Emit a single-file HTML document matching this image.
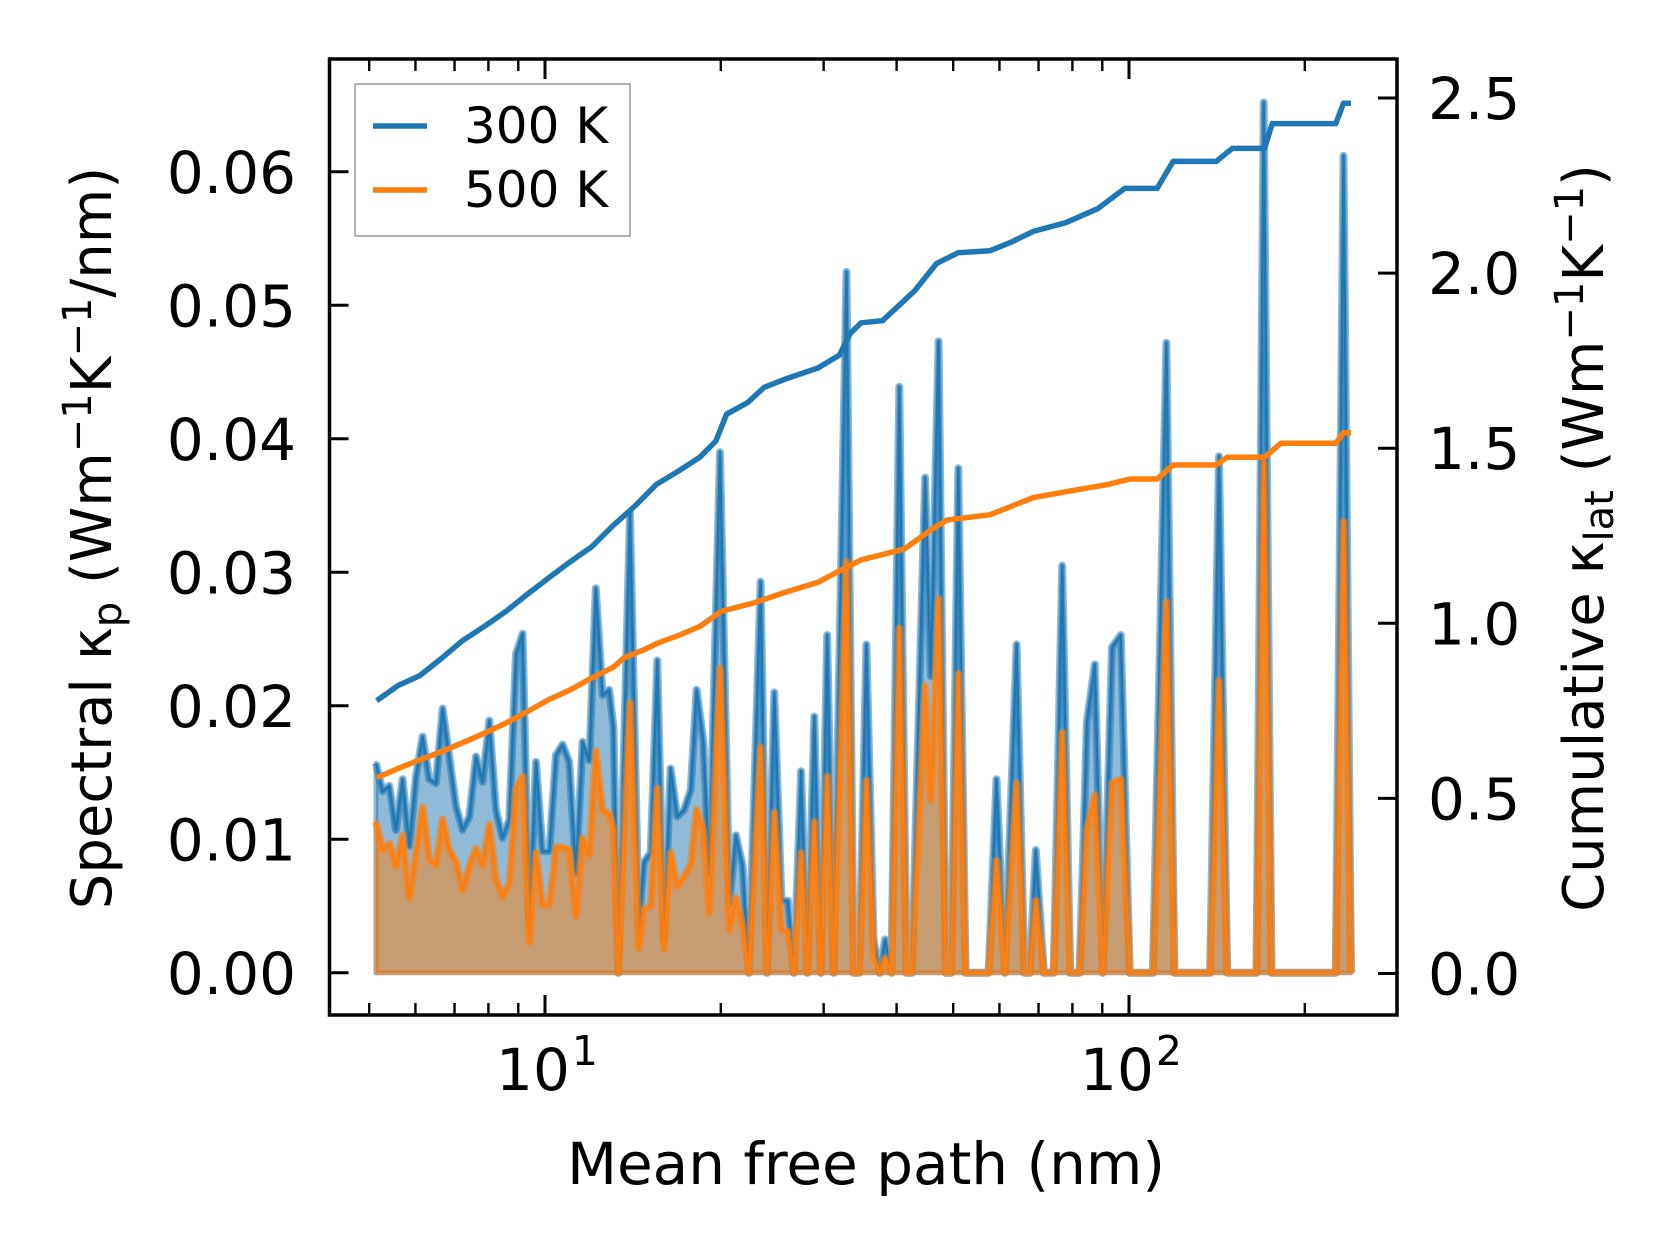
<!DOCTYPE html>
<html><head><meta charset="utf-8"><style>
html,body{margin:0;padding:0;background:#fff;}
svg{display:block;font-family:"DejaVu Sans","Liberation Sans",sans-serif;}
</style></head><body>
<svg id="chart" width="1679" height="1254" viewBox="0 0 1679 1254" xmlns="http://www.w3.org/2000/svg">
<defs><clipPath id="plotclip"><rect x="329.5" y="59" width="1067.5" height="956"/></clipPath></defs>
<g id="marks" clip-path="url(#plotclip)"></g>
<g id="axes"></g>
<g>
<rect x="355" y="84" width="275" height="152" fill="#fff" fill-opacity="0.8" stroke="#999" stroke-width="1.5"/>
<line x1="373" y1="126" x2="427" y2="126" stroke="#1f77b4" stroke-width="5.5"/>
<text x="464" y="143" font-size="50">300 K</text>
<line x1="373" y1="190" x2="427" y2="190" stroke="#ff7f0e" stroke-width="5.5"/>
<text x="464" y="207" font-size="50">500 K</text>
</g>
<text x="866" y="1184" font-size="58" text-anchor="middle">Mean free path (nm)</text>
<text transform="translate(111,538) rotate(-90)" font-size="56" text-anchor="middle">Spectral κ<tspan font-size="40" dy="10">p</tspan><tspan dy="-10"> (Wm</tspan><tspan font-size="40" dy="-20">−1</tspan><tspan dy="20">K</tspan><tspan font-size="40" dy="-20">−1</tspan><tspan dy="20">/nm)</tspan></text>
<text transform="translate(1603,538) rotate(-90)" font-size="56" text-anchor="middle">Cumulative κ<tspan font-size="40" dy="10">lat</tspan><tspan dy="-10"> (Wm</tspan><tspan font-size="40" dy="-20">−1</tspan><tspan dy="20">K</tspan><tspan font-size="40" dy="-20">−1</tspan><tspan dy="20">)</tspan></text>
</svg>
<script>
const mfp = [5.135,5.272,5.412,5.556,5.704,5.856,6.012,6.172,6.337,6.505,6.679,6.857,7.04,7.227,7.42,7.617,7.82,8.028,8.242,8.462,8.687,8.918,9.156,9.40,9.65,9.907,10.17,10.44,10.72,11.0,11.3,11.6,11.91,12.22,12.55,12.88,13.1,13.35,13.98,14.47,14.77,15.17,15.57,15.98,16.41,16.85,17.30,17.76,18.18,18.67,19.11,19.94,20.69,21.23,21.80,22.33,23.4,24.0,24.7,25.41,26.06,26.69,27.45,28.15,28.92,29.67,30.43,31.2,32.83,33.76,34.52,35.51,36.53,37.42,38.22,39.2,40.43,41.59,42.47,44.76,45.78,47.21,48.57,49.6,51.02,52.48,57.5,59.32,61.27,64.2,66.2,67.6,69.25,71.5,74.3,76.85,79.3,82.3,84.7,87.4,90.2,93.5,96.8,100.3,109.9,115.9,119.6,137.7,142.6,147.3,165.3,170.1,175.4,226.0,233.0,240.0];
const spec300 = [0.0157,0.0136,0.0140,0.0107,0.0145,0.0095,0.0147,0.0177,0.0145,0.0142,0.0198,0.0162,0.0125,0.0107,0.0117,0.0162,0.0143,0.0189,0.0122,0.0101,0.0115,0.0239,0.0254,0.0037,0.0158,0.0091,0.0091,0.0163,0.0171,0.0158,0.0075,0.0173,0.0159,0.0288,0.0208,0.0212,0.0184,0,0.0345,0.0035,0.0083,0.0090,0.0234,0.0025,0.0153,0.0117,0.0122,0.0137,0.0212,0.0174,0.0075,0.0390,0.0052,0.0103,0.0080,0,0.0293,0,0.0210,0.0054,0.0054,0,0.0151,0,0.0192,0,0.0253,0,0.0525,0,0,0.0246,0.0025,0,0.0025,0,0.0439,0,0,0.0371,0.0222,0.0473,0,0,0.0378,0,0,0.0145,0,0.0246,0,0,0.0092,0,0,0.0305,0,0,0.0188,0.0231,0,0.0244,0.0253,0,0,0.0472,0,0,0.0387,0,0,0.0652,0,0,0.0612,0];
const spec500 = [0.0113,0.0092,0.0097,0.0080,0.0103,0.0056,0.0090,0.0124,0.0085,0.0081,0.0115,0.0092,0.0083,0.0062,0.0080,0.0093,0.0081,0.0111,0.0070,0.0057,0.0067,0.0138,0.0147,0.0023,0.0090,0.0051,0.0051,0.0094,0.0094,0.0092,0.0042,0.0101,0.0088,0.0166,0.0122,0.0119,0.0107,0,0.0202,0.0018,0.0048,0.0050,0.0138,0.0018,0.0090,0.0065,0.0072,0.0081,0.0122,0.0107,0.0045,0.0228,0.0032,0.0056,0.0035,0,0.0169,0,0.0120,0.0032,0.0031,0,0.0090,0,0.0113,0,0.0147,0,0.0308,0,0,0.0144,0.0011,0,0.0011,0,0.0258,0,0,0.0215,0.0129,0.0280,0,0,0.0224,0,0,0.0084,0,0.0142,0,0,0.0054,0,0,0.0180,0,0,0.0108,0.0133,0,0.0142,0.0145,0,0,0.0278,0,0,0.0219,0,0,0.0382,0,0,0.0338,0];
const cumMfp300 = [5.15,5.60,6.10,6.64,7.23,7.87,8.57,9.33,10.15,11.05,12.03,13.10,14.26,15.52,16.90,18.40,19.61,20.46,22.27,23.73,25.83,29.34,31.94,33.33,34.77,37.84,40.34,42.98,46.79,50.95,57.86,62.98,68.58,77.9,88.4,98.3,111.7,119.0,141.1,150.3,170.7,175.9,226.0,233.0,240.0];
const cum300 = [0.779,0.822,0.850,0.899,0.951,0.991,1.034,1.083,1.130,1.176,1.219,1.280,1.335,1.397,1.434,1.474,1.520,1.597,1.631,1.674,1.698,1.729,1.766,1.828,1.858,1.864,1.907,1.950,2.027,2.058,2.064,2.089,2.119,2.144,2.184,2.242,2.242,2.319,2.319,2.356,2.356,2.427,2.427,2.485,2.485];
const cumMfp500 = [5.15,5.60,6.10,6.64,7.23,7.87,8.57,9.33,10.15,11.05,12.03,13.10,13.67,14.8,15.52,16.90,18.4,20.03,22.75,25.83,29.34,31.94,34.77,41.20,45.81,48.82,57.86,68.58,81.23,92.3,100.4,111.7,119.0,141.1,147.2,170.7,181.9,226.0,233.0,240.0];
const cum500 = [0.559,0.585,0.610,0.633,0.659,0.686,0.715,0.748,0.782,0.810,0.844,0.875,0.902,0.925,0.942,0.965,0.991,1.034,1.058,1.089,1.117,1.150,1.181,1.212,1.267,1.295,1.310,1.359,1.381,1.397,1.412,1.412,1.452,1.452,1.474,1.474,1.514,1.514,1.544,1.544];
const yTicksLeft = [0,0.01,0.02,0.03,0.04,0.05,0.06];
const yTicksRight = [0,0.5,1.0,1.5,2.0,2.5];
const xMajor = [10,100];
const xMinor = [5,6,7,8,9,20,30,40,50,60,70,80,90,200];

const NS = "http://www.w3.org/2000/svg";
const L = 329.5, R = 1397, T = 59, B = 1015;
function xs(v){ return 545 + 584*(Math.log10(v)-1); }
function yl(v){ return 972.8 - v*13350; }
function yr(v){ return 973.5 - v*350.2; }
function mk(tag, attrs, parent){ const e=document.createElementNS(NS,tag); for(const k in attrs) e.setAttribute(k,attrs[k]); parent.appendChild(e); return e; }
const marks = document.getElementById('marks');
const axes = document.getElementById('axes');

function spectral(vals, color, name){
  const pts = mfp.map((m,i)=>xs(m).toFixed(1)+','+yl(vals[i]).toFixed(1));
  const poly = mk('polygon',{points: pts.join(' ')+' '+xs(mfp[mfp.length-1]).toFixed(1)+','+yl(0)+' '+xs(mfp[0]).toFixed(1)+','+yl(0), fill:color, 'fill-opacity':0.5, stroke:color, 'stroke-opacity':0.5, 'stroke-width':5, 'stroke-linejoin':'round'}, marks);
  
  
  const halo = mk('polyline',{points: pts.join(' '), fill:'none', stroke:color, 'stroke-opacity':0.5, 'stroke-width':8, 'stroke-linejoin':'round'}, marks);
  
  
  const line = mk('polyline',{points: pts.join(' '), fill:'none', stroke:color, 'stroke-width':2.4, 'stroke-linejoin':'round'}, marks);
  
  
}
spectral(spec300,'#1f77b4','spectral-300k');
spectral(spec500,'#ff7f0e','spectral-500k');
function cum(xv, vals, color, name){
  const pts = xv.map((m,i)=>xs(m).toFixed(1)+','+yr(vals[i]).toFixed(1));
  const e = mk('polyline',{points: pts.join(' '), fill:'none', stroke:color, 'stroke-width':5.5, 'stroke-linejoin':'round'}, marks);
  
  
}
cum(cumMfp300, cum300, '#1f77b4', 'cumulative-300k-line');
cum(cumMfp500, cum500, '#ff7f0e', 'cumulative-500k-line');

yTicksLeft.forEach(v=>{
  const y=yl(v);
  const t = mk('line',{x1:L,x2:L+19,y1:y,y2:y,stroke:'#000','stroke-width':3},axes);
  
  
  const tx = mk('text',{x:296,y:y+21,'font-size':58,'text-anchor':'end'},axes);
  tx.textContent = v.toFixed(2);
  
  
});
yTicksRight.forEach(v=>{
  const y=yr(v);
  const t = mk('line',{x1:R-19,x2:R,y1:y,y2:y,stroke:'#000','stroke-width':3},axes);
  
  
  const tx = mk('text',{x:1428,y:y+21,'font-size':58,'text-anchor':'start'},axes);
  tx.textContent = v.toFixed(1);
  
  
});
xMajor.forEach((v,i)=>{
  const x=xs(v);
  [[B,B-20],[T,T+20]].forEach(p=>{
    const t = mk('line',{x1:x,x2:x,y1:p[0],y2:p[1],stroke:'#000','stroke-width':3},axes);
    
    
  });
  const tx = mk('text',{x:x+2,y:1090,'font-size':58,'text-anchor':'middle'},axes);
  
  
  tx.textContent = '10';
  const sup = mk('tspan',{'font-size':41,dy:-25,dx:2},tx);
  sup.textContent = String(i+1);
});
xMinor.forEach(v=>{
  const x=xs(v);
  [[B,B-12],[T,T+12]].forEach(p=>{
    const t = mk('line',{x1:x,x2:x,y1:p[0],y2:p[1],stroke:'#000','stroke-width':2.4},axes);
    
    
  });
});
const frame = mk('rect',{x:L,y:T,width:R-L,height:B-T,fill:'none',stroke:'#000','stroke-width':3.5},axes);


</script>
</body></html>
